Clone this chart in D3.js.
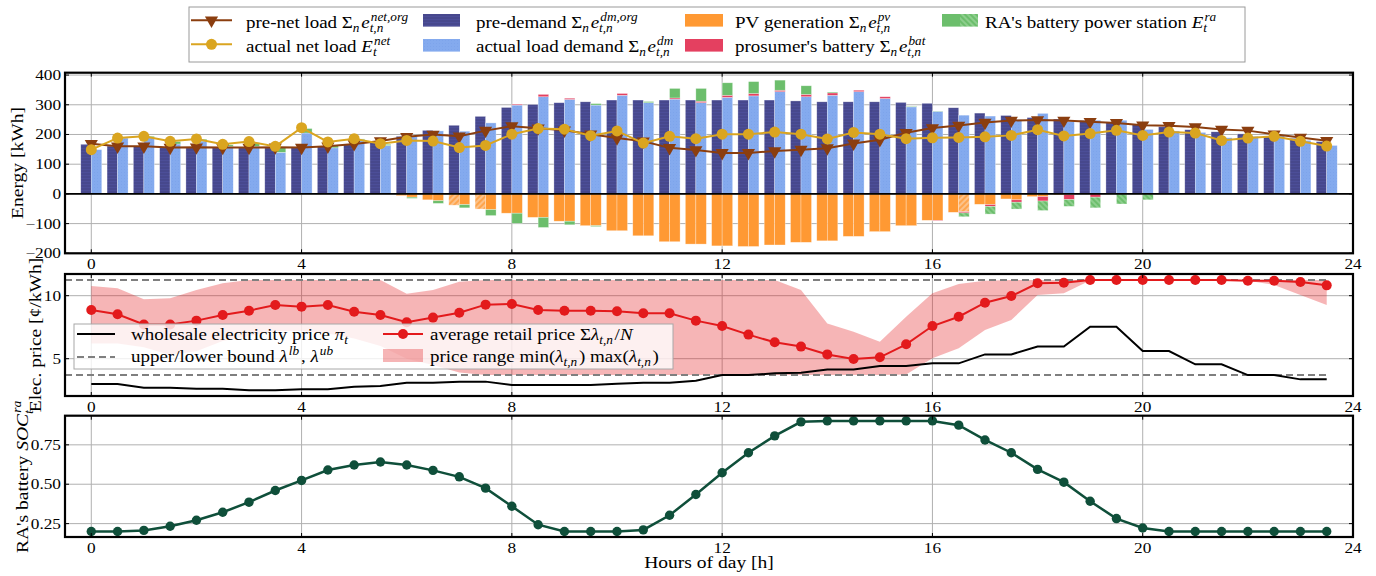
<!DOCTYPE html>
<html>
<head>
<meta charset="utf-8">
<script src="https://cdn.jsdelivr.net/npm/d3@7"></script>
<style>
  body { margin: 0; background: #fff; }
  svg { display: block; }
</style>
</head>
<body>
<script>
(function () {
  'use strict';

  // ---- data ----
  const hours = [0, 0.5, 1, 1.5, 2, 2.5, 3, 3.5, 4, 4.5, 5, 5.5, 6, 6.5, 7, 7.5, 8, 8.5, 9, 9.5, 10, 10.5, 11, 11.5,
    12, 12.5, 13, 13.5, 14, 14.5, 15, 15.5, 16, 16.5, 17, 17.5, 18, 18.5, 19, 19.5, 20, 20.5, 21, 21.5, 22, 22.5, 23, 23.5];
  const xTicks = [0, 4, 8, 12, 16, 20, 24];

  // panel 1 : energy [kWh]
  const preDemand = [167, 161, 160, 156, 156, 156, 156, 156, 156, 160, 167, 178,
    194, 214, 231, 261, 291, 301, 307, 310, 316, 316, 316, 316,
    316, 316, 316, 313, 310, 310, 310, 308, 305, 290, 272, 264,
    257, 252, 247, 240, 233, 226, 216, 209, 202, 195, 187, 176];
  const actDemand = [149, 188, 190, 168, 178, 160, 160, 140, 205, 155, 182, 163,
    194, 212, 211, 239, 299, 327, 318, 299, 332, 307, 319, 307,
    325, 330, 344, 327, 332, 344, 321, 293, 278, 265, 262, 250,
    271, 243, 248, 248, 217, 212, 207, 189, 194, 197, 180, 163];
  const batCharge = [0, 0, 0, 0, 0, 0, 0, 0, 0, 0, 0, 0,
    0, 0, 0, 0, 3, 8, 4, 0, 6, 0, 4, 5,
    7, 8, 5, 8, 8, 5, 6, 0, 0, 0, 0, 0,
    0, 0, 0, 0, 0, 0, 0, 0, 0, 0, 0, 0];
  const raCharge = [0, 0, 4, 8, 6, 5, 12, 18, 15, 8, 3, 4,
    0, 0, 0, 0, 0, 0, 0, 5, 0, 4, 32, 43,
    42, 40, 34, 29, 3, 0, 0, 2, 1, 0, 0, 0,
    0, 0, 0, 0, 0, 0, 0, 0, 0, 0, 0, 0];
  const pvPre = [0, 0, 0, 0, 0, 0, 0, 0, 0, 0, 0, 0,
    6, 20, 38, 51, 65, 79, 92, 107, 124, 141, 161, 169,
    175, 177, 172, 163, 158, 143, 127, 107, 89, 62, 35, 17,
    9, 3, 0, 0, 0, 0, 0, 0, 0, 0, 0, 0];
  const pvAct = [0, 0, 0, 0, 0, 0, 0, 0, 0, 0, 0, 0,
    11, 23, 36, 53, 65, 79, 92, 107, 124, 141, 161, 169,
    175, 177, 172, 163, 158, 143, 127, 107, 89, 60, 36, 20,
    9, 2, 0, 0, 0, 0, 0, 0, 0, 0, 0, 0];
  const batDischarge = [0, 0, 0, 0, 0, 0, 0, 0, 0, 0, 0, 0,
    0, 0, 0, 0, 0, 0, 0, 0, 0, 0, 0, 0,
    0, 0, 0, 0, 0, 0, 0, 0, 2, 4, 6, 8,
    15, 17, 11, 0, 0, 0, 0, 0, 0, 0, 0, 0];
  const raDischarge = [0, 0, 0, 0, 0, 0, 0, 0, 0, 0, 0, 0,
    4, 9, 11, 20, 34, 34, 12, 3, 0, 0, 0, 0,
    0, 0, 0, 0, 0, 0, 0, 0, 0, 13, 26, 23,
    32, 23, 36, 34, 20, 0, 0, 0, 0, 0, 0, 0];
  const preNetLoad = [169, 160, 160, 156, 157, 156, 156, 157, 156, 160, 168, 178,
    192, 200, 194, 213, 228, 221, 214, 201, 188, 177, 155, 148,
    138, 138, 144, 149, 154, 170, 182, 206, 222, 230, 240, 247,
    249, 247, 243, 239, 231, 229, 225, 217, 213, 201, 190, 179];
  const actNetLoad = [149, 188, 194, 177, 185, 167, 176, 160, 223, 175, 186, 169,
    180, 178, 156, 163, 201, 220, 218, 196, 212, 171, 194, 186,
    201, 201, 208, 201, 185, 207, 201, 186, 189, 190, 192, 197,
    216, 195, 203, 214, 197, 208, 205, 180, 188, 194, 177, 161];
  // which bars are drawn hatched
  const hatchPvPre = [14, 15];
  const hatchPvAct = [33];
  const hatchRaDis = [33, 34, 35, 36, 37, 38, 39, 40];

  // panel 2 : price [c/kWh]
  const wholesale = [2.99, 2.99, 2.70, 2.70, 2.62, 2.62, 2.49, 2.49, 2.57, 2.57, 2.78, 2.83,
    3.10, 3.10, 3.18, 3.18, 2.91, 2.91, 2.91, 2.91, 3.02, 3.10, 3.10, 3.25,
    3.70, 3.70, 3.84, 3.89, 4.15, 4.15, 4.42, 4.42, 4.63, 4.63, 5.34, 5.34,
    5.96, 5.96, 7.54, 7.54, 5.61, 5.61, 4.55, 4.55, 3.70, 3.70, 3.36, 3.36];
  const avgRetail = [8.86, 8.52, 7.72, 7.72, 8.02, 8.47, 8.81, 9.26, 9.13, 9.26, 8.73, 8.47,
    7.89, 8.26, 8.65, 9.29, 9.34, 8.86, 8.81, 8.81, 8.76, 8.60, 8.60, 8.02,
    7.59, 6.91, 6.30, 5.96, 5.34, 4.98, 5.11, 6.14, 7.59, 8.33, 9.44, 9.97,
    10.98, 11.03, 11.24, 11.24, 11.24, 11.24, 11.24, 11.24, 11.19, 11.19, 11.08, 10.82];
  const priceMax = [10.77, 10.58, 9.71, 9.79, 10.45, 10.98, 11.24, 11.24, 11.24, 11.24, 11.24, 11.24,
    10.16, 10.45, 11.11, 11.24, 11.24, 11.24, 11.24, 11.24, 11.24, 11.24, 11.24, 11.24,
    11.24, 11.24, 11.24, 10.45, 7.80, 7.14, 6.35, 8.33, 10.19, 10.93, 11.19, 11.24,
    11.24, 11.24, 11.24, 11.24, 11.24, 11.24, 11.24, 11.24, 11.24, 11.24, 11.24, 11.24];
  const priceMin = [6.2, 6.2, 5.9, 5.3, 5.6, 6.4, 6.8, 7.2, 7.2, 7.0, 6.6, 6.0,
    5.0, 4.5, 3.9, 3.7, 3.7, 3.7, 3.7, 3.7, 3.7, 3.7, 3.7, 3.7,
    3.7, 3.7, 3.7, 3.7, 3.7, 3.7, 3.7, 3.75, 5.03, 5.82, 7.28, 8.07,
    10.05, 10.2, 11.2, 11.24, 11.24, 11.24, 11.24, 11.24, 11.19, 10.85, 10.05, 9.26];
  const lowerBound = 3.7;
  const upperBound = 11.25;
  const boundSpan = [-0.5, 23.5];

  // panel 3 : RA battery state of charge
  const soc = [0.2, 0.2, 0.207, 0.233, 0.271, 0.322, 0.386, 0.46, 0.524, 0.59, 0.622, 0.641,
    0.622, 0.588, 0.547, 0.475, 0.36, 0.243, 0.2, 0.2, 0.2, 0.21, 0.303, 0.435,
    0.573, 0.70, 0.807, 0.896, 0.902, 0.902, 0.902, 0.902, 0.902, 0.875, 0.781, 0.70,
    0.594, 0.513, 0.392, 0.282, 0.222, 0.2, 0.2, 0.2, 0.2, 0.2, 0.2, 0.2];

  // ---- setup ----
  const W = 1376, H = 576;
  const SX = 1.15; // horizontal stretch of the serif glyphs in the reference
  const FONT = "'Liberation Serif', 'Times New Roman', Times, serif";
  const COL = {
    pv: '#ff9933', bat: '#e44060', ra: '#6cbe6c',
    brown: '#8b3e0f', gold: '#daa520', red: '#e31a1c', soc: '#0f4f3a', grid: '#b0b0b0'
  };

  const svg = d3.select('body').append('svg').attr('width', W).attr('height', H)
    .attr('font-family', FONT);
  const defs = svg.append('defs');

  function pat(id, w, h, base, rot) {
    const p = defs.append('pattern').attr('id', id)
      .attr('patternUnits', 'userSpaceOnUse').attr('width', w).attr('height', h);
    if (rot) p.attr('patternTransform', `rotate(${rot})`);
    p.append('rect').attr('width', w).attr('height', h).attr('fill', base);
    return p;
  }
  pat('pPre', 4, 3, '#47488d').append('line')
    .attr('x1', 0).attr('x2', 4).attr('y1', 1.5).attr('y2', 1.5)
    .attr('stroke', '#4f52a0').attr('stroke-width', 0.6);
  pat('pAct', 3, 3, '#84aaee').append('circle')
    .attr('cx', 1.5).attr('cy', 1.5).attr('r', 0.5).attr('fill', '#7ba2ea');
  pat('pGreen', 4, 4, COL.ra, -45).append('line')
    .attr('x1', 2).attr('x2', 2).attr('y1', 0).attr('y2', 4)
    .attr('stroke', '#a9dba9').attr('stroke-width', 1.1);
  pat('pOrange', 4, 4, '#fcc28a', 45).append('line')
    .attr('x1', 2).attr('x2', 2).attr('y1', 0).attr('y2', 4)
    .attr('stroke', COL.pv).attr('stroke-width', 1.4);

  const x = d3.scaleLinear().domain([-0.5, 24]).range([65, 1353]);
  const bw = x(0.2) - x(0);

  // text with a stretch, optionally containing sub/superscripts
  function mtext(parent, px, py, parts, o) {
    const size = o.size || 16, rot = o.rot || 0, anchor = o.anchor || 'start';
    const g = parent.append('g').attr('transform', `translate(${px},${py}) rotate(${rot}) scale(${SX},1)`);
    const inner = g.append('g');
    let cx = 0;
    const put = (t, x0, dy, fs, it) => {
      const el = inner.append('text').attr('x', x0).attr('y', dy).attr('font-size', fs)
        .attr('font-family', FONT)
        .attr('font-style', it ? 'italic' : 'normal').attr('fill', '#000')
        .text(t.replace(/ /g, '\u00a0'));
      return el.node().getComputedTextLength();
    };
    (Array.isArray(parts) ? parts : [parts]).forEach(p => {
      if (typeof p === 'string') { cx += put(p, cx, 0, size, false); return; }
      if (p.t) cx += put(p.t, cx, 0, size, p.it);
      let w = 0;
      if (p.hi) w = Math.max(w, put(p.hi, cx + (p.it ? 1 : 0), -0.42 * size, size * 0.7, true) + (p.it ? 1 : 0));
      if (p.lo) w = Math.max(w, put(p.lo, cx, 0.27 * size, size * 0.7, true));
      cx += w + (w ? 1.5 : 0);
    });
    if (anchor === 'middle') inner.attr('transform', `translate(${-cx / 2},0)`);
    else if (anchor === 'end') inner.attr('transform', `translate(${-cx},0)`);
    return cx;
  }

  function makePanel(top, bottom, domain, yTicks) {
    const y = d3.scaleLinear().domain(domain).range([bottom, top]);
    const g = svg.append('g');
    g.append('g').selectAll('line').data(xTicks).join('line')
      .attr('x1', d => x(d)).attr('x2', d => x(d)).attr('y1', top).attr('y2', bottom)
      .attr('stroke', COL.grid).attr('stroke-width', 1);
    g.append('g').selectAll('line').data(yTicks).join('line')
      .attr('x1', x.range()[0]).attr('x2', x.range()[1]).attr('y1', d => y(d)).attr('y2', d => y(d))
      .attr('stroke', COL.grid).attr('stroke-width', 1);
    return { g, y, top, bottom, yTicks };
  }

  function finishPanel(p, fmt) {
    const [l, r] = x.range();
    const g = svg.append('g');
    const tk = g.append('g').attr('stroke', '#000').attr('stroke-width', 1);
    p.yTicks.forEach(v => {
      tk.append('line').attr('x1', l).attr('x2', l + 4).attr('y1', p.y(v)).attr('y2', p.y(v));
      tk.append('line').attr('x1', r - 4).attr('x2', r).attr('y1', p.y(v)).attr('y2', p.y(v));
      mtext(g, l - 4, p.y(v) + 5, fmt(v), { size: 15, anchor: 'end' });
    });
    xTicks.forEach(t => {
      tk.append('line').attr('x1', x(t)).attr('x2', x(t)).attr('y1', p.top).attr('y2', p.top + 4);
      tk.append('line').attr('x1', x(t)).attr('x2', x(t)).attr('y1', p.bottom - 4).attr('y2', p.bottom);
      mtext(g, x(t), p.bottom + 15.5, String(t), { size: 15, anchor: 'middle' });
    });
    g.append('rect').attr('x', l).attr('y', p.top).attr('width', r - l).attr('height', p.bottom - p.top)
      .attr('fill', 'none').attr('stroke', '#000').attr('stroke-width', 2.2);
  }

  // ---- panel 1 : energy ----
  const p1 = makePanel(72.7, 253.3, [-200, 408], [-200, -100, 0, 100, 200, 300, 400]);
  const segs = [];
  hours.forEach((t, i) => {
    segs.push({ t, side: -1, y0: 0, y1: preDemand[i], fill: 'url(#pPre)' });
    segs.push({ t, side: -1, y0: 0, y1: -pvPre[i], fill: hatchPvPre.includes(i) ? 'url(#pOrange)' : COL.pv });
    let top = actDemand[i];
    segs.push({ t, side: 0, y0: 0, y1: top, fill: 'url(#pAct)' });
    segs.push({ t, side: 0, y0: top, y1: top + batCharge[i], fill: COL.bat });
    top += batCharge[i];
    segs.push({ t, side: 0, y0: top, y1: top + raCharge[i], fill: COL.ra });
    let bot = -pvAct[i];
    segs.push({ t, side: 0, y0: 0, y1: bot, fill: hatchPvAct.includes(i) ? 'url(#pOrange)' : COL.pv });
    segs.push({ t, side: 0, y0: bot, y1: bot - batDischarge[i], fill: COL.bat });
    bot -= batDischarge[i];
    segs.push({ t, side: 0, y0: bot, y1: bot - raDischarge[i], fill: hatchRaDis.includes(i) ? 'url(#pGreen)' : COL.ra });
  });
  p1.g.append('g').selectAll('rect').data(segs.filter(s => s.y0 !== s.y1)).join('rect')
    .attr('x', d => x(d.t) + d.side * bw)
    .attr('width', bw)
    .attr('y', d => p1.y(Math.max(d.y0, d.y1)))
    .attr('height', d => Math.abs(p1.y(d.y0) - p1.y(d.y1)))
    .attr('fill', d => d.fill)
    .attr('stroke', 'rgba(255,255,255,0.5)').attr('stroke-width', 0.6);

  p1.g.append('line').attr('x1', x.range()[0]).attr('x2', x.range()[1])
    .attr('y1', p1.y(0)).attr('y2', p1.y(0)).attr('stroke', '#000').attr('stroke-width', 1.8);

  const line1 = d3.line().x(d => x(d[0])).y(d => p1.y(d[1]));
  const preNetPts = hours.map((t, i) => [t, preNetLoad[i]]);
  const actNetPts = hours.map((t, i) => [t, actNetLoad[i]]);
  const tri = d3.symbol(d3.symbolTriangle, 75)();
  p1.g.append('path').attr('d', line1(preNetPts)).attr('fill', 'none').attr('stroke', COL.brown).attr('stroke-width', 2);
  p1.g.append('g').selectAll('path').data(preNetPts).join('path')
    .attr('d', tri).attr('fill', COL.brown)
    .attr('transform', d => `translate(${x(d[0])},${p1.y(d[1])}) rotate(180)`);
  p1.g.append('path').attr('d', line1(actNetPts)).attr('fill', 'none').attr('stroke', COL.gold).attr('stroke-width', 2);
  p1.g.append('g').selectAll('circle').data(actNetPts).join('circle')
    .attr('cx', d => x(d[0])).attr('cy', d => p1.y(d[1])).attr('r', 5.5).attr('fill', COL.gold);

  finishPanel(p1, v => (v < 0 ? '\u2212' + Math.abs(v) : String(v)));

  // ---- panel 2 : prices ----
  const p2 = makePanel(274, 396, [2.04, 11.72], [5, 10]);
  const area = d3.area().x(d => x(d.t)).y0(d => p2.y(d.lo)).y1(d => p2.y(d.hi));
  p2.g.append('path').attr('d', area(hours.map((t, i) => ({ t, lo: priceMin[i], hi: priceMax[i] }))))
    .attr('fill', COL.red).attr('fill-opacity', 0.32);
  [lowerBound, upperBound].forEach(b => {
    p2.g.append('line').attr('x1', x(boundSpan[0])).attr('x2', x(boundSpan[1]))
      .attr('y1', p2.y(b)).attr('y2', p2.y(b))
      .attr('stroke', '#7f7f7f').attr('stroke-width', 2).attr('stroke-dasharray', '7,4');
  });
  const line2 = d3.line().x(d => x(d[0])).y(d => p2.y(d[1]));
  p2.g.append('path').attr('d', line2(hours.map((t, i) => [t, wholesale[i]])))
    .attr('fill', 'none').attr('stroke', '#000').attr('stroke-width', 2);
  const retailPts = hours.map((t, i) => [t, avgRetail[i]]);
  p2.g.append('path').attr('d', line2(retailPts)).attr('fill', 'none').attr('stroke', COL.red).attr('stroke-width', 2);
  p2.g.append('g').selectAll('circle').data(retailPts).join('circle')
    .attr('cx', d => x(d[0])).attr('cy', d => p2.y(d[1])).attr('r', 5).attr('fill', COL.red);

  finishPanel(p2, v => String(v));

  // panel 2 legend
  const lg2 = svg.append('g');
  lg2.append('rect').attr('x', 74).attr('y', 324).attr('width', 599).attr('height', 45)
    .attr('fill', '#fff').attr('fill-opacity', 0.8).attr('stroke', '#a8a8a8').attr('stroke-width', 1);
  lg2.append('line').attr('x1', 77).attr('x2', 115).attr('y1', 334).attr('y2', 334)
    .attr('stroke', '#000').attr('stroke-width', 2);
  lg2.append('line').attr('x1', 77).attr('x2', 115).attr('y1', 357).attr('y2', 357)
    .attr('stroke', '#7f7f7f').attr('stroke-width', 2).attr('stroke-dasharray', '7,4');
  lg2.append('line').attr('x1', 383).attr('x2', 423).attr('y1', 334).attr('y2', 334)
    .attr('stroke', COL.red).attr('stroke-width', 2);
  lg2.append('circle').attr('cx', 403).attr('cy', 334).attr('r', 5).attr('fill', COL.red);
  lg2.append('rect').attr('x', 383).attr('y', 349).attr('width', 40).attr('height', 13)
    .attr('fill', COL.red).attr('fill-opacity', 0.32);
  mtext(lg2, 131, 340, ['wholesale electricity price ', { t: 'π', it: true, lo: 't' }], { size: 16.5 });
  mtext(lg2, 131, 362, ['upper/lower bound ', { t: 'λ', it: true, hi: 'lb' }, ', ', { t: 'λ', it: true, hi: 'ub' }], { size: 16.5 });
  mtext(lg2, 430, 340, ['average retail price Σ', { t: 'λ', it: true, lo: 't,n' }, '/', { t: 'N', it: true }], { size: 16.5 });
  mtext(lg2, 430, 362, ['price range min(', { t: 'λ', it: true, lo: 't,n' }, ') max(', { t: 'λ', it: true, lo: 't,n' }, ')'], { size: 16.5 });

  // ---- panel 3 : state of charge ----
  const p3 = makePanel(415.7, 537, [0.165, 0.935], [0.25, 0.5, 0.75]);
  const socPts = hours.map((t, i) => [t, soc[i]]);
  p3.g.append('path').attr('d', d3.line().x(d => x(d[0])).y(d => p3.y(d[1]))(socPts))
    .attr('fill', 'none').attr('stroke', COL.soc).attr('stroke-width', 2.5);
  p3.g.append('g').selectAll('circle').data(socPts).join('circle')
    .attr('cx', d => x(d[0])).attr('cy', d => p3.y(d[1])).attr('r', 4.7).attr('fill', COL.soc);
  finishPanel(p3, d3.format('.2f'));

  // ---- axis titles ----
  mtext(svg, 23, 163, 'Energy [kWh]', { size: 17, rot: -90, anchor: 'middle' });
  mtext(svg, 41, 335, 'Elec. price [¢/kWh]', { size: 17, rot: -90, anchor: 'middle' });
  mtext(svg, 28, 476, ["RA's battery ", { t: 'SOC', it: true, lo: 't', hi: 'ra' }], { size: 17, rot: -90, anchor: 'middle' });
  mtext(svg, 709, 568, 'Hours of day [h]', { size: 17, anchor: 'middle' });

  // ---- top legend ----
  const lg = svg.append('g');
  lg.append('rect').attr('x', 189).attr('y', 7).attr('width', 1056).attr('height', 55)
    .attr('fill', '#fff').attr('stroke', '#9a9a9a').attr('stroke-width', 1);
  const rowY = [20.3, 45.3];
  const base = [27.5, 52];
  lg.append('line').attr('x1', 191).attr('x2', 232).attr('y1', rowY[0]).attr('y2', rowY[0])
    .attr('stroke', COL.brown).attr('stroke-width', 2);
  lg.append('path').attr('d', tri).attr('fill', COL.brown)
    .attr('transform', `translate(211.5,${rowY[0]}) rotate(180)`);
  lg.append('line').attr('x1', 191).attr('x2', 232).attr('y1', rowY[1] - 1).attr('y2', rowY[1] - 1)
    .attr('stroke', COL.gold).attr('stroke-width', 2);
  lg.append('circle').attr('cx', 211.5).attr('cy', rowY[1] - 1).attr('r', 5.5).attr('fill', COL.gold);

  const patch = (px, row, w, fill) => lg.append('rect').attr('x', px).attr('y', rowY[row] - 6.3)
    .attr('width', w).attr('height', 12.6).attr('fill', fill);
  patch(423, 0, 37, 'url(#pPre)');
  patch(423, 1, 37, 'url(#pAct)');
  patch(685, 0, 38, COL.pv);
  patch(685, 1, 38, COL.bat);
  patch(942, 0, 18, COL.ra);
  patch(960, 0, 18, 'url(#pGreen)');

  const sumN = { t: 'Σ', lo: 'n' };
  const e = (hi) => ({ t: 'e', it: true, lo: 't,n', hi });
  mtext(lg, 246, base[0], ['pre-net load ', sumN, e('net,org')], { size: 16.5 });
  mtext(lg, 246, base[1], ['actual net load ', { t: 'E', it: true, lo: 't', hi: 'net' }], { size: 16.5 });
  mtext(lg, 476, base[0], ['pre-demand ', sumN, e('dm,org')], { size: 16.5 });
  mtext(lg, 476, base[1], ['actual load demand ', sumN, e('dm')], { size: 16.5 });
  mtext(lg, 735, base[0], ['PV generation ', sumN, e('pv')], { size: 16.5 });
  mtext(lg, 735, base[1], ["prosumer's battery ", sumN, e('bat')], { size: 16.5 });
  mtext(lg, 985, base[0], ["RA's battery power station ", { t: 'E', it: true, lo: 't', hi: 'ra' }], { size: 16.5 });
})();
</script>
</body>
</html>
